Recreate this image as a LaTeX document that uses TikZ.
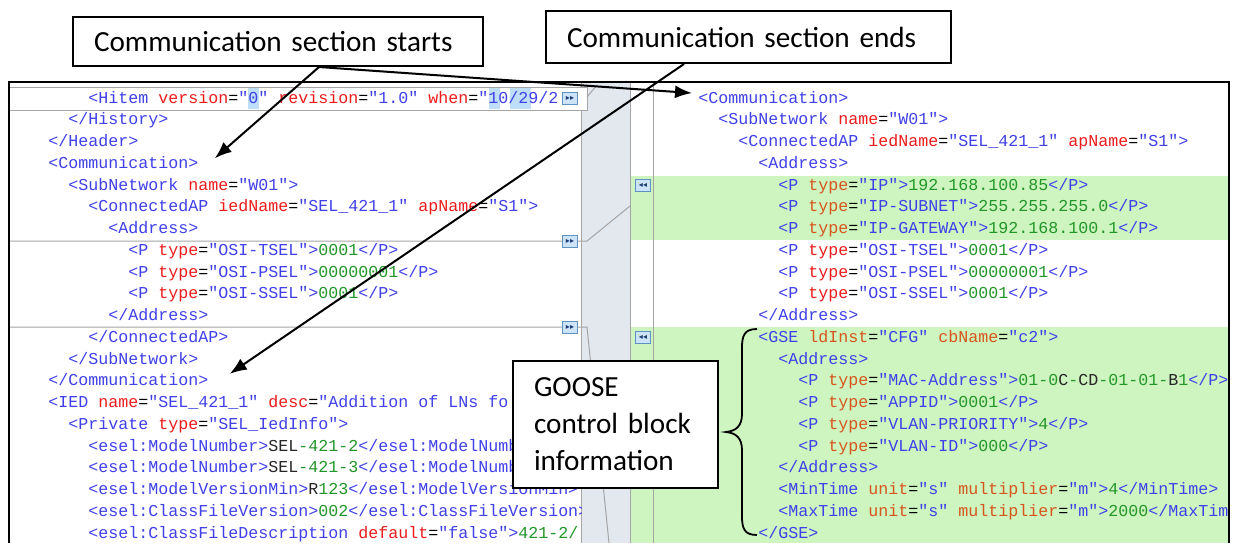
\documentclass[tikz,border=0pt]{standalone}
\usepackage{fontspec}
\setmainfont{Carlito}
\newfontfamily\codefont{Liberation Mono}
\newfontfamily\symfont{DejaVu Sans}
\usepackage{xcolor}
\usetikzlibrary{
    arrows.meta,
    positioning
}

\definecolor{xtag}{RGB}{64,64,232}
\definecolor{xatt}{RGB}{236,28,28}
\definecolor{xattg}{RGB}{214,86,30}
\definecolor{xtxt}{RGB}{34,150,40}
\definecolor{xgreen}{RGB}{206,245,192}
\definecolor{xgutter}{RGB}{227,231,238}
\definecolor{xrule}{RGB}{165,165,165}
\definecolor{xhigh}{RGB}{190,222,250}

\newcommand{\tagn}[1]{\textcolor{xtag}{#1}}
\newcommand{\attn}[1]{\textcolor{xatt}{#1}=}
\newcommand{\attg}[1]{\textcolor{xattg}{#1}=}
\newcommand{\valn}[1]{\textcolor{xtag}{#1}}
\newcommand{\txtn}[1]{\textcolor{xtxt}{#1}}
\newcommand{\plainn}[1]{\textcolor{black!85}{#1}}

\begin{document}
\begin{tikzpicture}[x=0.5pt,y=-0.5pt,
    codeline/.style={anchor=base west,inner sep=0pt,font=\codefont\fontsize{8.33}{10}\selectfont},
    notebox/.style={draw,line width=1pt,fill=white,anchor=north west,align=left,inner xsep=10.5pt,
        font=\fontsize{14.6}{18.5}\selectfont},
    iconbox/.style={draw={rgb,255:red,95;green,145;blue,195},fill={rgb,255:red,205;green,228;blue,248},
        minimum width=7.5pt,minimum height=6pt,inner sep=0pt,text={rgb,255:red,30;green,60;blue,120},
        font=\symfont\fontsize{4}{4}\selectfont},
    pointer/.style={line width=1pt,-{Latex[length=8.5pt,width=6.5pt]}},
    grayline/.style={draw=xrule,line width=0.5pt}]
\useasboundingbox (0,0) rectangle (1233,543);
\fill[white] (0,0) rectangle (1233,543);

% panels
\fill[xgutter] (581,83) rectangle (630,543);
\fill[xgreen] (630,176) rectangle (1229,240);
\fill[xgreen] (630,327) rectangle (1229,543);
\draw[grayline] (581,83) -- (581,543);
\draw[grayline] (630,83) -- (630,543);
\draw[grayline] (653,83) -- (653,543);

% left rows
\draw[grayline,fill=white] (9,87) rectangle (587,110);
\draw[grayline] (9,241) -- (587,241) -- (630,206);
\draw[grayline] (9,327) -- (587,327) -- (609,543);
\draw[grayline] (587,97) -- (597,85);
\fill[xhigh] (248,88) rectangle (259,109);
\fill[xhigh] (489,88) rectangle (500,109);
\fill[xhigh] (510,88) rectangle (531,109);

% left code
\begin{scope}
\clip (10,84) rectangle (581,543);
\node[codeline] (l1) at (88,103) {\tagn{<Hitem} \attn{version}\valn{"0"} \attn{revision}\valn{"1.0"} \attn{when}\valn{"10/29/2}};
\node[codeline] (l2) at (68,124.75) {\tagn{</History>}};
\node[codeline] (l3) at (48,146.5) {\tagn{</Header>}};
\node[codeline] (l4) at (48,168.25) {\tagn{<Communication>}};
\node[codeline] (l5) at (68,190) {\tagn{<SubNetwork} \attn{name}\valn{"W01">}};
\node[codeline] (l6) at (88,211.75) {\tagn{<ConnectedAP} \attn{iedName}\valn{"SEL\_421\_1"} \attn{apName}\valn{"S1">}};
\node[codeline] (l7) at (108,233.5) {\tagn{<Address>}};
\node[codeline] (l8) at (128,255.25) {\tagn{<P} \attn{type}\valn{"OSI-TSEL">}\txtn{0001}\tagn{</P>}};
\node[codeline] (l9) at (128,277) {\tagn{<P} \attn{type}\valn{"OSI-PSEL">}\txtn{00000001}\tagn{</P>}};
\node[codeline] (l10) at (128,298.75) {\tagn{<P} \attn{type}\valn{"OSI-SSEL">}\txtn{0001}\tagn{</P>}};
\node[codeline] (l11) at (108,320.5) {\tagn{</Address>}};
\node[codeline] (l12) at (88,342.25) {\tagn{</ConnectedAP>}};
\node[codeline] (l13) at (68,364) {\tagn{</SubNetwork>}};
\node[codeline] (l14) at (48,385.75) {\tagn{</Communication>}};
\node[codeline] (l15) at (48,407.5) {\tagn{<IED} \attn{name}\valn{"SEL\_421\_1"} \attn{desc}\valn{"Addition of LNs fo}};
\node[codeline] (l16) at (68,429.25) {\tagn{<Private} \attn{type}\valn{"SEL\_IedInfo">}};
\node[codeline] (l17) at (88,451) {\tagn{<esel:ModelNumber>}\plainn{SEL}\txtn{-421-2}\tagn{</esel:ModelNumber>}};
\node[codeline] (l18) at (88,472.75) {\tagn{<esel:ModelNumber>}\plainn{SEL}\txtn{-421-3}\tagn{</esel:ModelNumber>}};
\node[codeline] (l19) at (88,494.5) {\tagn{<esel:ModelVersionMin>}\plainn{R}\txtn{123}\tagn{</esel:ModelVersionMin>}};
\node[codeline] (l20) at (88,516.25) {\tagn{<esel:ClassFileVersion>}\txtn{002}\tagn{</esel:ClassFileVersion>}};
\node[codeline] (l21) at (88,538) {\tagn{<esel:ClassFileDescription} \attn{default}\valn{"false">}\txtn{421-2/}};
\end{scope}

% right code
\begin{scope}
\clip (653,84) rectangle (1228,543);
\node[codeline] (r1) at (698,103) {\tagn{<Communication>}};
\node[codeline] (r2) at (718,124.75) {\tagn{<SubNetwork} \attn{name}\valn{"W01">}};
\node[codeline] (r3) at (738,146.5) {\tagn{<ConnectedAP} \attn{iedName}\valn{"SEL\_421\_1"} \attn{apName}\valn{"S1">}};
\node[codeline] (r4) at (758,168.25) {\tagn{<Address>}};
\node[codeline] (r5) at (778,190) {\tagn{<P} \attg{type}\valn{"IP">}\txtn{192.168.100.85}\tagn{</P>}};
\node[codeline] (r6) at (778,211.75) {\tagn{<P} \attg{type}\valn{"IP-SUBNET">}\txtn{255.255.255.0}\tagn{</P>}};
\node[codeline] (r7) at (778,233.5) {\tagn{<P} \attg{type}\valn{"IP-GATEWAY">}\txtn{192.168.100.1}\tagn{</P>}};
\node[codeline] (r8) at (778,255.25) {\tagn{<P} \attn{type}\valn{"OSI-TSEL">}\txtn{0001}\tagn{</P>}};
\node[codeline] (r9) at (778,277) {\tagn{<P} \attn{type}\valn{"OSI-PSEL">}\txtn{00000001}\tagn{</P>}};
\node[codeline] (r10) at (778,298.75) {\tagn{<P} \attn{type}\valn{"OSI-SSEL">}\txtn{0001}\tagn{</P>}};
\node[codeline] (r11) at (758,320.5) {\tagn{</Address>}};
\node[codeline] (r12) at (758,342.25) {\tagn{<GSE} \attg{ldInst}\valn{"CFG"} \attg{cbName}\valn{"c2">}};
\node[codeline] (r13) at (778,364) {\tagn{<Address>}};
\node[codeline] (r14) at (798,385.75) {\tagn{<P} \attg{type}\valn{"MAC-Address">}\txtn{01-0}\plainn{C}\txtn{-}\plainn{CD}\txtn{-01-01-}\plainn{B}\txtn{1}\tagn{</P>}};
\node[codeline] (r15) at (798,407.5) {\tagn{<P} \attg{type}\valn{"APPID">}\txtn{0001}\tagn{</P>}};
\node[codeline] (r16) at (798,429.25) {\tagn{<P} \attg{type}\valn{"VLAN-PRIORITY">}\txtn{4}\tagn{</P>}};
\node[codeline] (r17) at (798,451) {\tagn{<P} \attg{type}\valn{"VLAN-ID">}\txtn{000}\tagn{</P>}};
\node[codeline] (r18) at (778,472.75) {\tagn{</Address>}};
\node[codeline] (r19) at (778,494.5) {\tagn{<MinTime} \attg{unit}\valn{"s"} \attg{multiplier}\valn{"m">}\txtn{4}\tagn{</MinTime>}};
\node[codeline] (r20) at (778,516.25) {\tagn{<MaxTime} \attg{unit}\valn{"s"} \attg{multiplier}\valn{"m">}\txtn{2000}\tagn{</MaxTime>}};
\node[codeline] (r21) at (758,538) {\tagn{</GSE>}};
\end{scope}

% diff markers
\node[iconbox] (m1) at (570,98) {▸▸};
\node[iconbox] (m2) at (570,241) {▸▸};
\node[iconbox] (m3) at (570,327) {▸▸};
\node[iconbox] (m4) at (643,185) {◂◂};
\node[iconbox] (m5) at (643,337) {◂◂};

% frame
\draw[line width=1pt] (9,543) -- (9,82) -- (1229,82) -- (1229,543);

% brace
\draw[line width=0.9pt] (757,329) .. controls (744,329) and (742,336) .. (742,348) -- (742,414)
    .. controls (742,426) and (736,431) .. (726,432) .. controls (736,433) and (742,438) .. (742,450)
    -- (742,516) .. controls (742,528) and (744,535) .. (757,535);

% callouts
\node[notebox,minimum width=205pt,minimum height=24.5pt,text width=184pt] (starts) at (72,16) {Communication section starts};
\node[notebox,minimum width=202.5pt,minimum height=26pt,text width=181.5pt] (ends) at (545,10) {Communication section ends};
\node[notebox,minimum width=102.5pt,minimum height=63.5pt,text width=81.5pt] (goose) at (512,360) {GOOSE\\control block\\information};

\draw
([xshift=20.5pt]starts.south) edge[pointer] ([xshift=8pt,yshift=2pt]l4.east)
([xshift=20.5pt]starts.south) edge[pointer] ([xshift=-3pt,yshift=2pt]r1.west)
([xshift=-32.25pt]ends.south) edge[pointer] ([xshift=10.5pt,yshift=3pt]l14.east);
\end{tikzpicture}
\end{document}
